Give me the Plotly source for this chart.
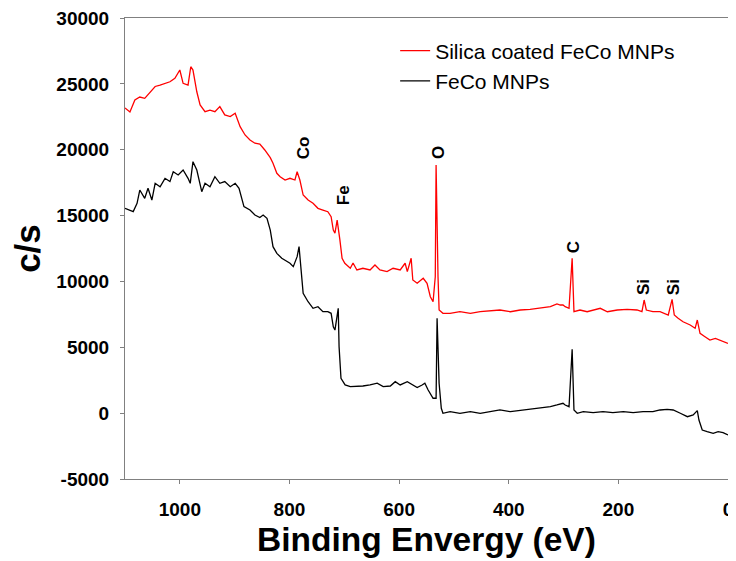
import plotly.graph_objects as go

# Silica coated FeCo MNPs (red)
red_energy = [1100, 1091, 1082, 1073, 1064, 1054, 1045, 1036, 1027, 1018, 1009, 1000, 994, 985, 980, 976,
              969, 963, 954, 945, 936, 927, 918, 908, 899, 890, 881, 872, 863, 854, 845, 835, 830, 823,
              817, 808, 799, 790, 786, 781, 775, 766, 757, 748, 739, 730, 724, 720, 717, 713, 708, 704,
              699, 689, 684, 677, 666, 653, 644, 635, 622, 611, 598, 589, 585, 578, 575, 567, 556, 549,
              543, 538, 534, 532.5, 529, 527, 520, 507, 489, 470, 452, 434, 416, 397, 379, 361, 343, 324,
              312, 306, 301, 297, 290, 284.3, 281, 270, 257, 246, 233, 220, 202, 184, 166, 157, 153, 149,
              137, 124, 109, 102, 98, 91, 82, 69, 60, 56, 51, 42, 33, 23, 14, 5, 0]
red_counts = [23170, 22860, 23770, 24000, 23900, 24400, 24800, 24900, 25040, 25160, 25420, 26050, 25040,
              24910, 26300, 26050, 24400, 23400, 22890, 23000, 22890, 23270, 22640, 22510, 22770, 21750,
              21120, 20740, 20490, 20420, 19980, 19400, 18970, 18210, 17950, 17700, 17830, 17700, 18330,
              17700, 16560, 16180, 15930, 15550, 15420, 15290, 14910, 13900, 13660, 14660, 13150, 11760,
              11380, 11000, 11400, 10870, 11000, 10870, 11250, 10870, 10740, 11000, 10870, 11380, 10740,
              11760, 10110, 9860, 10240, 9860, 8840, 8460, 10360, 18840, 10360, 7830, 7580, 7580, 7700,
              7580, 7700, 7780, 7830, 7700, 7830, 7880, 7960, 8080, 8290, 8210, 8210, 8080, 7960, 11760,
              7700, 7830, 7700, 7830, 7960, 7700, 7830, 7880, 7830, 7700, 8590, 7830, 7700, 7700, 7450,
              8640, 7450, 7200, 6940, 6690, 6440, 7070, 6060, 5800, 5550, 5680, 5550, 5420, 5300]

# FeCo MNPs (black)
black_energy = [1100, 1091, 1085, 1078, 1073, 1064, 1058, 1051, 1045, 1036, 1027, 1018, 1012, 1003, 994,
                985, 981, 976, 969, 960, 954, 945, 936, 927, 918, 908, 899, 892, 883, 872, 863, 854, 848,
                841, 835, 830, 823, 814, 804, 799, 793, 786, 782.5, 779, 775, 766, 757, 748, 739, 730,
                724, 720, 717, 711, 709.5, 706, 698.5, 689, 677, 666, 653, 640, 629, 616, 607, 598, 585,
                576, 567, 558, 553, 547, 538, 532.5, 530.7, 527, 523, 520, 507, 489, 470, 452, 434, 416,
                397, 379, 361, 343, 324, 312, 301, 297, 290, 284.3, 281, 275, 264, 246, 228, 210, 191,
                173, 155, 137, 124, 111, 100, 87, 74, 63.5, 56, 53, 47, 38, 27, 18, 9, 0]
black_counts = [15550, 15420, 15300, 15930, 16940, 16310, 17070, 16180, 17450, 17190, 17830, 17580, 18330,
                18080, 18460, 17830, 17450, 19090, 18460, 16810, 17450, 17190, 17950, 17450, 17580, 17190,
                17450, 17070, 15680, 15420, 15040, 14850, 15040, 14790, 13900, 12640, 12130, 11760, 11500,
                11380, 11120, 11880, 12640, 10870, 9100, 8460, 7960, 8080, 7700, 7700, 7580, 6560, 6310,
                7960, 5050, 2650, 2140, 2010, 2010, 2060, 2140, 2270, 2010, 2060, 2390, 2140, 2390, 2140,
                1950, 2140, 2270, 1760, 1130, 1130, 7200, 2270, 370, -10, 110, -10, 110, -10, 110, 240,
                110, 190, 290, 370, 490, 620, 750, 620, 490, 4850, 240, -10, 110, 40, 110, 40, 110, 40,
                110, 110, 240, 290, 240, -10, -270, -140, 190, -520, -1280, -1410, -1530, -1410, -1480,
                -1660]

peak_labels = ["Co", "Fe", "O", "C", "Si", "Si"]
peak_label_energy = [775, 702, 529, 282.5, 155, 100]
peak_label_counts = [20130, 16560, 19750, 12614, 9577, 9577]

x_ticks = [0, 200, 400, 600, 800, 1000]
y_ticks = [-5000, 0, 5000, 10000, 15000, 20000, 25000, 30000]

FONT = "Arial, Liberation Sans, sans-serif"

fig = go.Figure()
fig.add_trace(go.Scatter(x=red_energy, y=red_counts, mode="lines", name="Silica coated FeCo MNPs",
                         line=dict(color="#ff0000", width=1.3)))
fig.add_trace(go.Scatter(x=black_energy, y=black_counts, mode="lines", name="FeCo MNPs",
                         line=dict(color="#000000", width=1.3)))

for lab, ex, cy in zip(peak_labels, peak_label_energy, peak_label_counts):
    fig.add_annotation(x=ex, y=cy, xref="x", yref="y", text="<b>%s</b>" % lab, showarrow=False,
                       textangle=-90, font=dict(family=FONT, size=17, color="#000000"))

axis_common = dict(showline=True, linecolor="#808080", linewidth=1, mirror=True, ticks="outside",
                   ticklen=4, tickcolor="#808080", showgrid=False, zeroline=False, automargin=False,
                   ticklabeloverflow="allow",
                   tickfont=dict(family=FONT, size=19, color="#000000"))

fig.update_xaxes(range=[1100, 0], tickvals=x_ticks, ticktext=["<b>%d</b>" % v for v in x_ticks],
                 ticklabelstandoff=9,
                 title=dict(text="<b>Binding Envergy (eV)</b>", font=dict(family=FONT, size=33.5, color="#000000"),
                            standoff=8),
                 **axis_common)
fig.update_yaxes(range=[-5000, 30000], tickvals=y_ticks, ticktext=["<b>%d</b>" % v for v in y_ticks],
                 ticklabelstandoff=7,
                 title=dict(text="<b>c/s</b>", font=dict(family=FONT, size=35, color="#000000"), standoff=8),
                 **axis_common)

# the page body adds an 8 px offset, margins compensate for it
fig.update_layout(
    width=736, height=561,
    margin=dict(l=117, r=16, t=10, b=90),
    paper_bgcolor="white", plot_bgcolor="white",
    showlegend=True,
    legend=dict(x=0.448, y=0.973, xanchor="left", yanchor="top", bgcolor="rgba(0,0,0,0)",
                font=dict(family=FONT, size=21, color="#000000"), tracegroupgap=0),
)

fig.write_html("out.html")
